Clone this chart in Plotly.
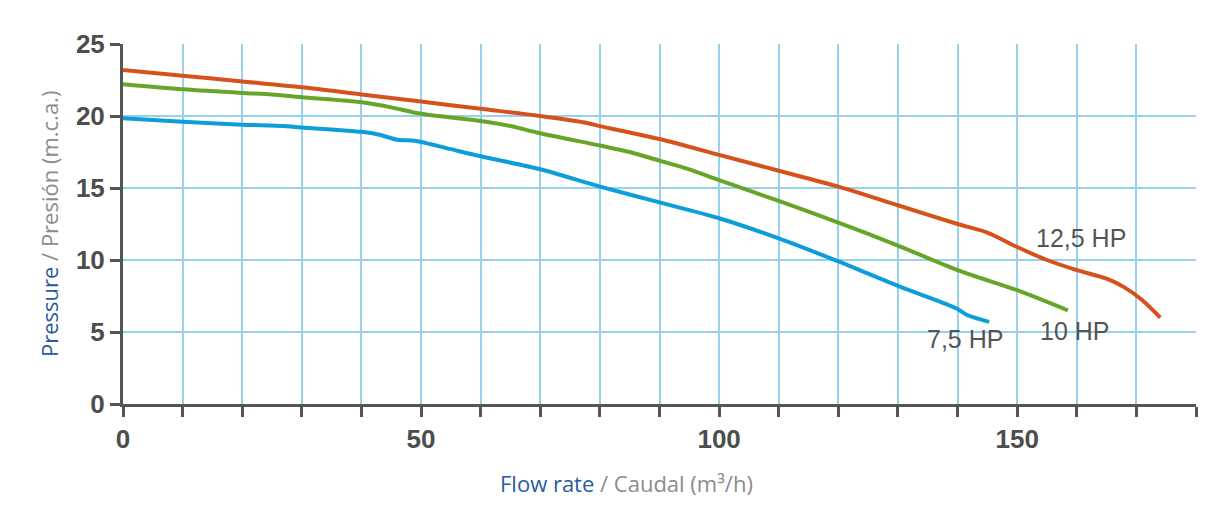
import plotly.graph_objects as go

# caudal (m3/h) y presion (m.c.a.)
flow_75 = [0, 10, 20, 27, 30, 40, 43, 46, 48.5, 50, 55, 60, 70, 80, 90, 100, 110, 120, 130, 138, 140, 141.5, 145.3]
head_75 = [19.85, 19.6, 19.4, 19.3, 19.2, 18.9, 18.7, 18.35, 18.3, 18.2, 17.7, 17.2, 16.3, 15.1, 14.0, 12.9, 11.5, 9.9, 8.2, 6.95, 6.6, 6.2, 5.7]

flow_10 = [0, 10, 20, 25, 30, 40, 45, 50, 60, 65, 70, 80, 85, 90, 95, 100, 110, 120, 130, 140, 150, 158.5]
head_10 = [22.2, 21.85, 21.6, 21.5, 21.3, 20.95, 20.6, 20.15, 19.65, 19.3, 18.8, 17.95, 17.5, 16.9, 16.3, 15.55, 14.1, 12.6, 11.0, 9.3, 7.9, 6.5]

flow_125 = [0, 10, 20, 30, 40, 50, 60, 70, 78, 80, 90, 100, 110, 120, 130, 140, 145, 150, 155, 160, 165, 168, 171, 174]
head_125 = [23.2, 22.8, 22.4, 22.0, 21.5, 21.0, 20.5, 20.0, 19.5, 19.3, 18.4, 17.3, 16.2, 15.1, 13.8, 12.5, 11.9, 10.9, 10.0, 9.3, 8.7, 8.1, 7.2, 6.0]

labels = ["7,5 HP", "10 HP", "12,5 HP"]
label_x = [141.3, 159.7, 160.7]
label_y = [4.5, 5.1, 11.5]

axis_col = "#555555"
grid_col = "#96d2ec"

fig = go.Figure()
for fx, hy, col in [
    (flow_75, head_75, "#0d9ddb"),
    (flow_10, head_10, "#66a528"),
    (flow_125, head_125, "#d6521c"),
]:
    fig.add_trace(go.Scatter(
        x=fx, y=hy, mode="lines",
        line=dict(color=col, width=4, shape="spline", smoothing=0.8),
        showlegend=False, hoverinfo="skip"
    ))

for txt, lx, ly in zip(labels, label_x, label_y):
    fig.add_annotation(
        x=lx, y=ly, text=txt, showarrow=False,
        font=dict(family="Liberation Sans, Arial", size=25, color="#555555")
    )

# titulos de ejes como anotaciones (la pagina tiene 8px de margen de body)
fig.add_annotation(
    xref="paper", yref="paper", x=-0.0848, y=0.5, textangle=-90,
    text="<span style='color:#2a5a9e'>Pressure</span> / Presión (m.c.a.)",
    showarrow=False,
    font=dict(family="Open Sans", size=22, color="#8c8c8c")
)
fig.add_annotation(
    xref="paper", yref="paper", x=0.4697, y=-0.219, yanchor="middle",
    text="<span style='color:#2a5a9e'>Flow rate</span> / Caudal (m³/h)",
    showarrow=False,
    font=dict(family="Open Sans", size=22, color="#8c8c8c")
)

tick_font = dict(family="Liberation Sans, Arial", size=26, color="#4d4d4d", weight="bold")

fig.update_layout(
    width=1227, height=505,
    plot_bgcolor="white", paper_bgcolor="white",
    margin=dict(l=115, r=39, t=36, b=109, autoexpand=False),
    xaxis=dict(
        range=[0, 180], tick0=0, dtick=50,
        showgrid=True, gridcolor=grid_col, gridwidth=2,
        showline=True, linecolor=axis_col, linewidth=3,
        ticks="outside", ticklen=10, tickwidth=3, tickcolor=axis_col,
        minor=dict(dtick=10, ticks="outside", ticklen=10, tickwidth=3, tickcolor=axis_col,
                   showgrid=True, gridcolor=grid_col, gridwidth=2),
        tickfont=tick_font, zeroline=False, fixedrange=True
    ),
    yaxis=dict(
        range=[0, 25], tick0=0, dtick=5,
        showgrid=True, gridcolor=grid_col, gridwidth=2,
        showline=True, linecolor=axis_col, linewidth=3,
        ticks="outside", ticklen=10, tickwidth=3, tickcolor=axis_col,
        tickfont=tick_font, zeroline=False, fixedrange=True
    ),
)

fig.write_html("out.html")
